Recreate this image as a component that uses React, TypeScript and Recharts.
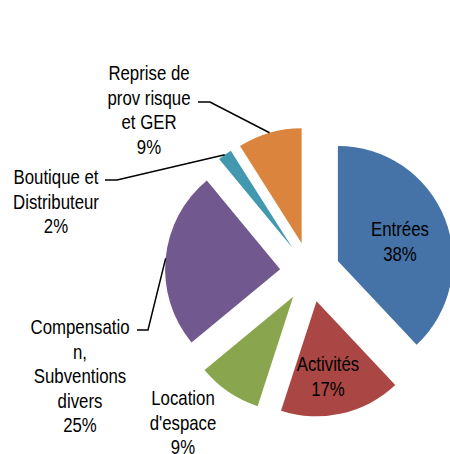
import { PieChart, Pie, Cell } from 'recharts';

const categories = ['Entrées', 'Activités', "Location d'espace", 'Compensation, Subventions divers', 'Boutique et Distributeur', 'Reprise de prov risque et GER'];
const values = [38, 17, 9, 25, 2, 9];
const labelLines = [['Entrées'], ['Activités'], ['Location', "d'espace"], ['Compensatio', 'n,', 'Subventions', 'divers'], ['Boutique et', 'Distributeur'], ['Reprise de', 'prov risque', 'et GER']];

const COLORS = ['#4572A7', '#AA4643', '#89A54E', '#71588F', '#4198AF', '#DB843D'];
const FONT = "'Liberation Sans', Arial, sans-serif";

// label placement (text centre x, first line centre y) and leader knee, per slice
const LABEL_POS = [
    { x: 400, y: 229, knee: null },
    { x: 328, y: 364, knee: null },
    { x: 183, y: 398, knee: null },
    { x: 80, y: 327, knee: { x: 148, y: 330, end: 137 } },
    { x: 56, y: 177, knee: { x: 117, y: 180, end: 105 } },
    { x: 149, y: 73, knee: { x: 210, y: 102, end: 198 } },
];

const CX = 310;
const CY = 272;
const R = 115;
const EXPLODE = 30;
const LINE_H = 24.5;
const RAD = Math.PI / 180;

const data = categories.map((name, i) => ({ name, value: values[i] }));
const total = values.reduce((a, b) => a + b, 0);

// mid angle of each slice (recharts convention, clockwise from 90)
const midAngles = values.map((v, i) => {
    const before = values.slice(0, i).reduce((a, b) => a + b, 0);
    return 90 - ((before + v / 2) / total) * 360;
});

function makeLabel(target: number) {
    return (props: any) => {
        if (props.index !== target) return null;
        const pos = LABEL_POS[target];
        const lines = [...labelLines[target], `${Math.round(props.percent * 100)}%`];
        const ax = props.cx + props.outerRadius * Math.cos(-props.midAngle * RAD);
        const ay = props.cy + props.outerRadius * Math.sin(-props.midAngle * RAD);
        return (
            <g key={`lbl-${target}`}>
                {pos.knee && (
                    <polyline
                        points={`${ax},${ay} ${pos.knee.x},${pos.knee.y} ${pos.knee.end},${pos.knee.y}`}
                        fill="none"
                        stroke="#000"
                        strokeWidth={1.5}
                    />
                )}
                {lines.map((t, k) => (
                    <text
                        key={k}
                        transform={`translate(${pos.x},${pos.y + k * LINE_H}) scale(0.82,1)`}
                        x={0}
                        y={0}
                        textAnchor="middle"
                        dominantBaseline="central"
                        fontFamily={FONT}
                        fontSize={20.5}
                        fill="#000"
                    >
                        {t}
                    </text>
                ))}
            </g>
        );
    };
}

export default function App() {
    return (
        <div style={{ width: 450, height: 454, background: '#fff' }}>
            <style>{'body{margin:0}'}</style>
            <PieChart width={450} height={454} margin={{ top: 0, right: 0, bottom: 0, left: 0 }}>
                {data.map((_, target) => {
                    const a = midAngles[target] * RAD;
                    return (
                        <Pie
                            key={target}
                            data={data}
                            dataKey="value"
                            nameKey="name"
                            cx={CX + EXPLODE * Math.cos(a)}
                            cy={CY - EXPLODE * Math.sin(a)}
                            outerRadius={R}
                            startAngle={90}
                            endAngle={-270}
                            stroke="none"
                            isAnimationActive={false}
                            labelLine={false}
                            label={makeLabel(target)}
                        >
                            {data.map((d, i) => (
                                <Cell key={`cell-${i}`} fill={i === target ? COLORS[i] : 'transparent'} />
                            ))}
                        </Pie>
                    );
                })}
            </PieChart>
        </div>
    );
}
